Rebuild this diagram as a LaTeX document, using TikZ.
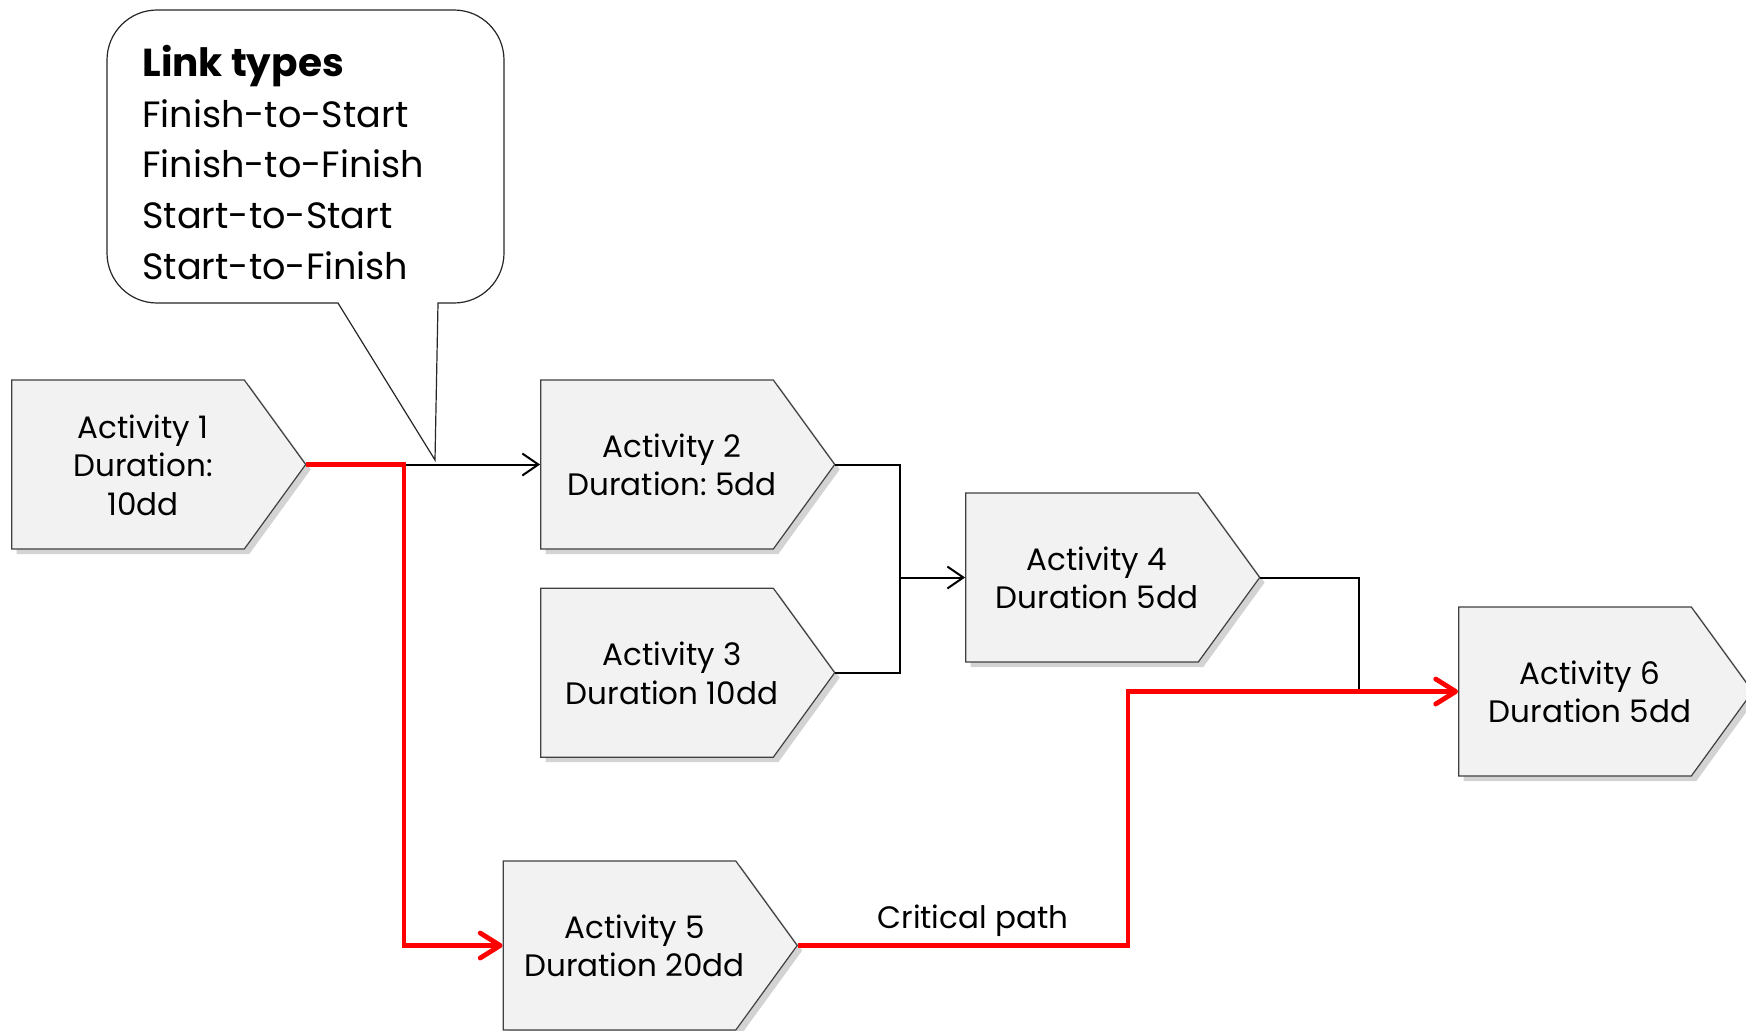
\documentclass[tikz,border=0pt]{standalone}
\usepackage{fontspec}
\setmainfont{Poppins}
\frenchspacing
\usetikzlibrary{positioning,shapes.symbols,shadows,arrows.meta}
\definecolor{boxgray}{RGB}{242,242,242}
\definecolor{edgegray}{RGB}{64,64,64}
\definecolor{critred}{RGB}{255,0,0}
\newcommand{\acttext}[1]{\raisebox{-2.2pt}[\height][\depth]{\begin{tabular}{@{\hspace{7.5pt}}c@{\hspace{-7.5pt}}}#1\end{tabular}}}
\tikzset{
  activity/.style={
    signal, signal to=east, signal pointer angle=108,
    draw=edgegray, line width=0.6pt,
    fill=boxgray,
    minimum width=147pt, minimum height=84.5pt,
    inner sep=0pt,
    font=\fontsize{15.5pt}{19.25pt}\selectfont,
    drop shadow={shadow xshift=2.5pt, shadow yshift=-2.5pt, opacity=0.35}},
  wire/.style={draw, line width=1pt},
  link/.style={wire, -{Straight Barb[length=8pt,width=11pt]}},
  crit/.style={draw=critred, line width=2.4pt, -{Straight Barb[length=10pt,width=12.5pt,round]}},
  critnote/.style={above=3.5pt, inner sep=0pt, font=\fontsize{15.5pt}{19.25pt}\selectfont},
  bubble/.style={draw=black!85, line width=0.6pt, fill=white},
  bubbletext/.style={anchor=north west, inner sep=0pt, align=left,
    font=\fontsize{18.3pt}{25.3pt}\selectfont},
}
\begin{document}
\begin{tikzpicture}[x=0.5pt, y=-0.5pt]
  \useasboundingbox (0,0) rectangle (1746,1030);

  % activities
  \node[activity] (a1) at (128,464.5) {\acttext{Activity 1\\Duration:\\10dd}};
  \node[activity] (a2) at (657,464.5) {\acttext{Activity 2\\Duration: 5dd}};
  \node[activity, below=19pt of a2] (a3) {\acttext{Activity 3\\Duration 10dd}};
  \node[activity] (a4) at (1082,577.5) {\acttext{Activity 4\\Duration 5dd}};
  \node[activity] (a5) at (619.5,945.5) {\acttext{Activity 5\\Duration 20dd}};
  \node[activity] (a6) at (1575,691.5) {\acttext{Activity 6\\Duration 5dd}};

  % callout
  \draw[bubble] (338,303) -- (435,460) -- (438,303) -- (454,303)
    arc[start angle=-90, end angle=0, radius=25pt] -- (504,60)
    arc[start angle=0, end angle=90, radius=25pt] -- (157,10)
    arc[start angle=90, end angle=180, radius=25pt] -- (107,253)
    arc[start angle=180, end angle=270, radius=25pt] -- cycle;
  \node[bubbletext] (linktypes) at (142,45)
    {{\fontsize{19.5pt}{24.5pt}\selectfont\bfseries Link types}\\
     Finish-to-Start\\Finish-to-Finish\\Start-to-Start\\Start-to-Finish};

  \coordinate (split) at (404,464.5);
  \coordinate (merge) at (900,577.5);
  \coordinate (join6) at (1359,691.5);
  \coordinate (bend) at (1128,691.5);

  % links
  \draw[link] (a1.east) -- (a2.west);
  \draw[link] (a2.east) -| (merge) -- (a4.west);
  \draw[wire] (a3.east) -| (merge);
  \draw[wire] (a4.east) -| (join6);

  % critical path
  \draw[crit] (a1.east) -- (split) |- (a5.west);
  \draw[crit] (a5.east) -- node[critnote, pos=0.53] (critlabel) {Critical path}
    (a5.east -| bend) -- (bend) -- (a6.west);
\end{tikzpicture}
\end{document}
